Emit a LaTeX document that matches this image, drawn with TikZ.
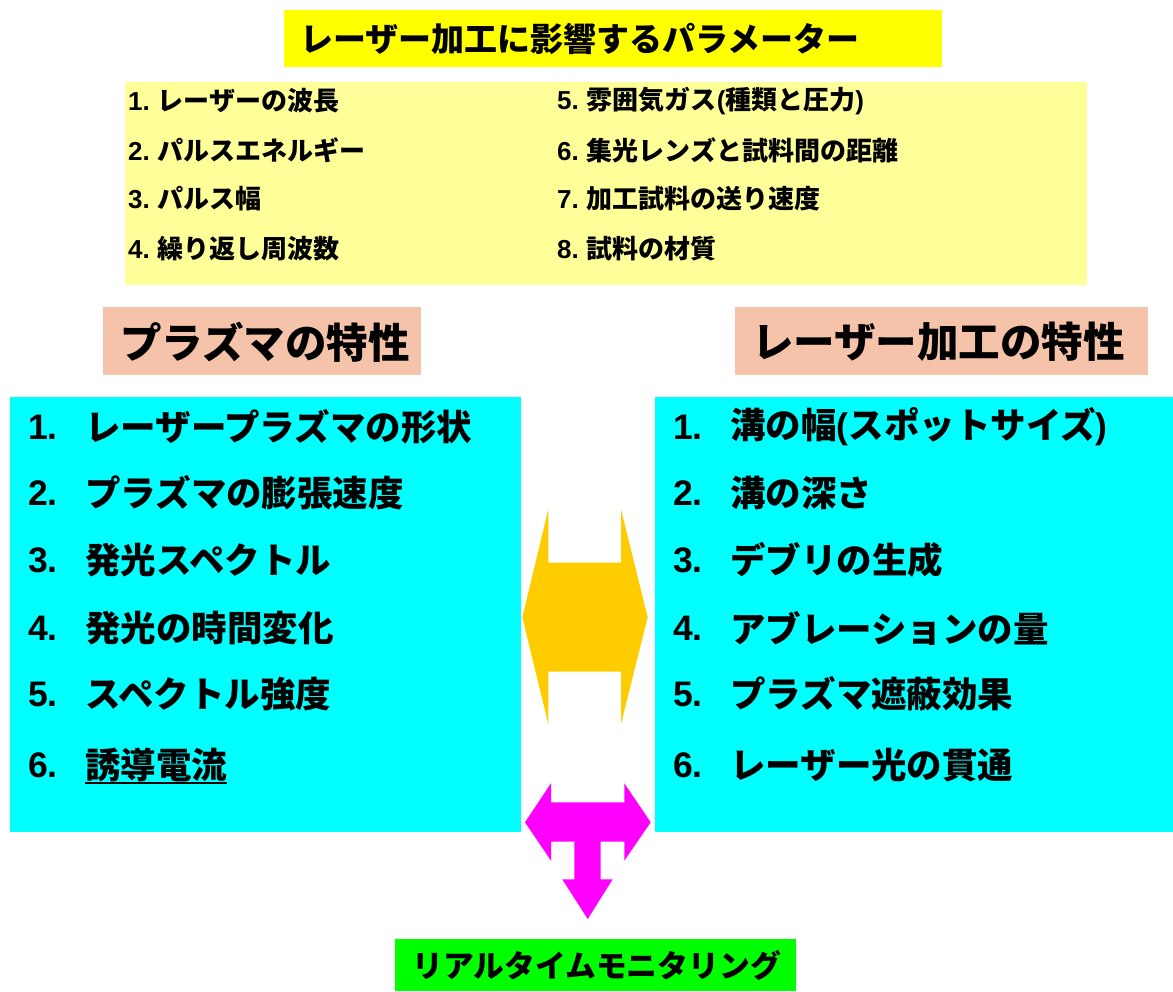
\documentclass[tikz,border=0pt]{standalone}
\usepackage{fontspec}
\setmainfont{Noto Sans CJK JP}
\newfontfamily\lat{Liberation Sans}
\definecolor{titleyellow}{HTML}{FFFF00}
\definecolor{paleyellow}{HTML}{FFFF99}
\definecolor{salmon}{HTML}{F5C3A9}
\definecolor{cyanbox}{HTML}{00FFFF}
\definecolor{gold}{HTML}{FFCC00}
\definecolor{magentaarrow}{HTML}{FF00FF}
\definecolor{greenbox}{HTML}{00FF00}
\begin{document}
\begin{tikzpicture}[x=1pt,y=-1pt,
  txt/.style={anchor=west,inner sep=0pt,font=\bfseries},
  small/.style={txt,font=\fontsize{26}{28}\selectfont\bfseries},
  big/.style={txt,font=\fontsize{35.5}{38}\selectfont\bfseries},
  head/.style={txt,font=\fontsize{41.5}{44}\selectfont\bfseries}]
\useasboundingbox (0,0) rectangle (1173,991);
% boxes
\fill[titleyellow] (284,10) rectangle (942,67);
\fill[paleyellow] (125,82) rectangle (1087,285);
\fill[salmon] (103,307) rectangle (421,375);
\fill[salmon] (735,307) rectangle (1148,375);
\fill[cyanbox] (10,397) rectangle (521,832);
\fill[cyanbox] (655,397) rectangle (1173,832);
\fill[greenbox] (395,939) rectangle (796,991);
% title
\node[txt,font=\fontsize{33}{36}\selectfont\bfseries] (title) at (300,39) {レーザー加工に影響するパラメーター};
% parameters
\node[small] (p1) at (128,101) {{\lat 1.} レーザーの波長};
\node[small] (p2) at (128,150) {{\lat 2.} パルスエネルギー};
\node[small] (p3) at (128,199) {{\lat 3.} パルス幅};
\node[small] (p4) at (128,249) {{\lat 4.} 繰り返し周波数};
\node[small] (p5) at (557,101) {{\lat 5.} 雰囲気ガス{\lat (}種類と圧力{\lat )}};
\node[small] (p6) at (557,150) {{\lat 6.} 集光レンズと試料間の距離};
\node[small] (p7) at (557,199) {{\lat 7.} 加工試料の送り速度};
\node[small] (p8) at (557,249) {{\lat 8.} 試料の材質};
% headings
\node[head] (hl) at (120,342) {プラズマの特性};
\node[head] (hr) at (752,342) {レーザー加工の特性};
% left list
\node[big] (ln1) at (28,427) {\lat 1.};
\node[big] (lt1) at (85,427) {レーザープラズマの形状};
\node[big] (ln2) at (28,493) {\lat 2.};
\node[big] (lt2) at (85,493) {プラズマの膨張速度};
\node[big] (ln3) at (28,560) {\lat 3.};
\node[big] (lt3) at (85,560) {発光スペクトル};
\node[big] (ln4) at (28,628) {\lat 4.};
\node[big] (lt4) at (85,628) {発光の時間変化};
\node[big] (ln5) at (28,694) {\lat 5.};
\node[big] (lt5) at (85,694) {スペクトル強度};
\node[big] (ln6) at (28,765) {\lat 6.};
\node[big] (lt6) at (85,765) {誘導電流};
\draw[line width=2pt] ([yshift=-1pt]lt6.south west) -- ([yshift=-1pt]lt6.south east);
% right list
\node[big] (rn1) at (673,427) {\lat 1.};
\node[big] (rt1) at (730,427) {溝の幅{\lat (}スポットサイズ{\lat )}};
\node[big] (rn2) at (673,493) {\lat 2.};
\node[big] (rt2) at (730,493) {溝の深さ};
\node[big] (rn3) at (673,560) {\lat 3.};
\node[big] (rt3) at (730,560) {デブリの生成};
\node[big] (rn4) at (673,628) {\lat 4.};
\node[big] (rt4) at (730,628) {アブレーションの量};
\node[big] (rn5) at (673,694) {\lat 5.};
\node[big] (rt5) at (730,694) {プラズマ遮蔽効果};
\node[big] (rn6) at (673,765) {\lat 6.};
\node[big] (rt6) at (730,765) {レーザー光の貫通};
% yellow double arrow
\fill[gold] (548.3,509.3) -- (548.3,562.7) -- (621,562.7) -- (621,509.3) -- (647.7,617.3)
  -- (621,724) -- (621,671.7) -- (548.3,671.7) -- (548.3,724) -- (522.3,617.3) -- cycle;
% magenta T arrow
\fill[magentaarrow] (525,822.3) -- (551,783.3) -- (551,802.3) -- (624.3,802.3) -- (624.3,783.3)
  -- (650.7,822.3) -- (624.3,860.7) -- (624.3,841.7) -- (600.7,841.7) -- (600.7,879.3)
  -- (612.7,879.3) -- (587.7,919) -- (562.3,879.3) -- (574.3,879.3) -- (574.3,841.7)
  -- (551,841.7) -- (551,860.7) -- cycle;
% bottom
\node[txt,font=\fontsize{30.8}{33}\selectfont\bfseries] (rt) at (412,966) {リアルタイムモニタリング};
\end{tikzpicture}
\end{document}
